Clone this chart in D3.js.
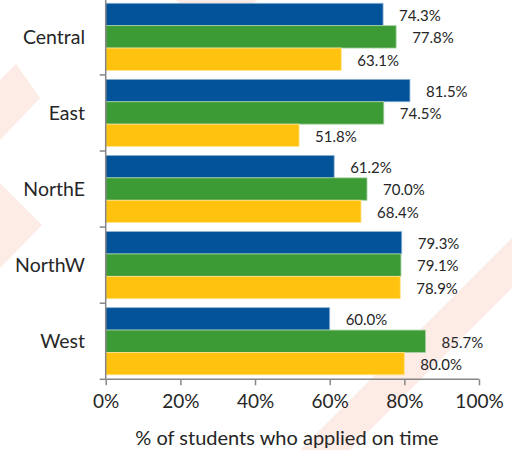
<!DOCTYPE html>
<html>
<head>
<meta charset="utf-8">
<script src="https://cdn.jsdelivr.net/npm/d3@7"></script>
<style>
  body { margin: 0; background: #fff; }
  text { font-family: Lato, "Open Sans", sans-serif; fill: #262626; }
</style>
</head>
<body>
<div id="chart"></div>
<script>
// data
const regions = ["Central", "East", "NorthE", "NorthW", "West"];
const seriesNames = ["s1", "s2", "s3"];
const s1 = [74.3, 81.5, 61.2, 79.3, 60.0];
const s2 = [77.8, 74.5, 70.0, 79.1, 85.7];
const s3 = [63.1, 51.8, 68.4, 78.9, 80.0];
const xTicks = [0, 20, 40, 60, 80, 100];
const colors = ["#02539a", "#3d9b35", "#ffc20f"];

const seriesValues = [s1, s2, s3];

let width = 512, height = 450;
let svg = d3.select("#chart").append("svg")
    .attr("width", width)
    .attr("height", height);

// faint background watermark
let wm = svg.append("g").attr("fill", "#fdebe6");
wm.append("polygon").attr("points", "0,80 16,64 40,98 0,140");
wm.append("polygon").attr("points", "0,183 42,225 0,268");
wm.append("polygon").attr("points", "175,0 258,0 250,5 183,5");
wm.append("polygon").attr("points", "300,450 512,238 512,288 350,450");

let x = d3.scaleLinear().domain([0, 100]).range([105.7, 479]);
let y0 = d3.scaleBand().domain(regions).range([-1.2, 379.3]);
let y1 = d3.scaleBand().domain(seriesNames).range([0, y0.bandwidth()]).paddingOuter(0.2);

// bars
let groups = svg.selectAll("g.region")
    .data(regions)
    .join("g")
    .attr("class", "region")
    .attr("transform", d => `translate(0,${y0(d)})`);

groups.selectAll("rect")
    .data((d, i) => seriesNames.map((s, j) => ({s: s, j: j, v: seriesValues[j][i]})))
    .join("rect")
    .attr("x", x(0))
    .attr("y", d => y1(d.s))
    .attr("width", d => x(d.v) - x(0))
    .attr("height", y1.bandwidth())
    .attr("fill", d => colors[d.j])
    .attr("stroke", d => d3.interpolateRgb(colors[d.j], "#ffffff")(0.55))
    .attr("stroke-width", 0.8);

// data labels
groups.selectAll("text.val")
    .data((d, i) => seriesNames.map((s, j) => ({s: s, j: j, v: seriesValues[j][i]})))
    .join("text")
    .attr("class", "val")
    .attr("x", d => x(d.v) + 16)
    .attr("y", d => y1(d.s) + y1.bandwidth() / 2)
    .attr("dy", "0.42em")
    .attr("font-size", "15px")
    .attr("fill", "#333")
    .text(d => d.v.toFixed(1) + "%");

// axes
let axisColor = "#868686";
let xAxis = svg.append("g")
    .attr("transform", `translate(0,${y0.range()[1]})`)
    .call(d3.axisBottom(x).tickValues(xTicks).tickFormat(d => d + "%").tickSize(6).tickPadding(9));
xAxis.select(".domain").attr("stroke", axisColor).attr("stroke-width", 1.5)
    .attr("d", `M${x(0)},0H${x(100)}`);
xAxis.selectAll(".tick line").attr("stroke", axisColor).attr("stroke-width", 1.5);
xAxis.selectAll(".tick text")
    .attr("font-size", "19px")
    .attr("font-family", "Lato, sans-serif")
    .attr("fill", "#262626");

let yAxis = svg.append("g").attr("transform", `translate(${x(0)},0)`);
yAxis.append("line")
    .attr("y1", y0.range()[0]).attr("y2", y0.range()[1])
    .attr("stroke", axisColor).attr("stroke-width", 1.5);
yAxis.selectAll("line.tick")
    .data(regions.slice(1).concat(["end"]))
    .join("line")
    .attr("class", "tick")
    .attr("x1", -6).attr("x2", 0)
    .attr("y1", d => d === "end" ? y0.range()[1] : y0(d))
    .attr("y2", d => d === "end" ? y0.range()[1] : y0(d))
    .attr("stroke", axisColor).attr("stroke-width", 1.5);

svg.selectAll("text.cat")
    .data(regions)
    .join("text")
    .attr("class", "cat")
    .attr("x", 85)
    .attr("y", d => y0(d) + y0.bandwidth() / 2)
    .attr("dy", "0.35em")
    .attr("text-anchor", "end")
    .attr("font-size", "19.5px")
    .text(d => d);

svg.append("text")
    .attr("x", 287)
    .attr("y", 445)
    .attr("text-anchor", "middle")
    .attr("font-size", "20px")
    .text("% of students who applied on time");
</script>
</body>
</html>
